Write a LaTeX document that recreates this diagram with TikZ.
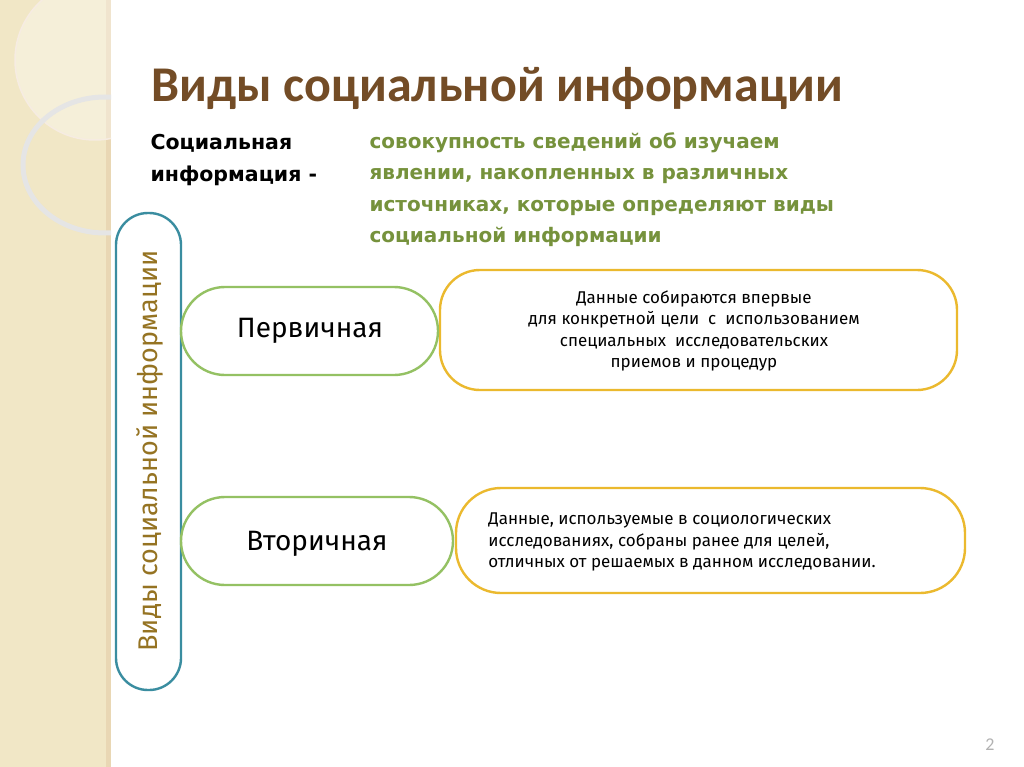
\documentclass[tikz,border=0pt]{standalone}
\usepackage{fontspec}
\setmainfont{Carlito}
\newfontfamily\hand{Fira Sans}
\newfontfamily\wide{DejaVu Sans}
\definecolor{beige}{HTML}{F1E7C6}
\definecolor{gborder}{HTML}{94C163}
\definecolor{yborder}{HTML}{EBB92E}
\definecolor{tborder}{HTML}{3A8DA0}
\definecolor{defc}{HTML}{76923C}
\begin{document}
\begin{tikzpicture}[x=1pt,y=-1pt,
  pill/.style={draw,rounded corners=40pt,line width=2.4pt,fill=white},
  grn/.style={pill,draw=gborder},
  yel/.style={pill,draw=yborder}]
\useasboundingbox (0,0) rectangle (1024,767);
\fill[white] (0,0) rectangle (1024,767);
\fill[beige] (0,0) rectangle (110,767);
\fill[beige!80!brown!90] (106,0) rectangle (111,767);
\begin{scope}
\clip (0,0) rectangle (111,767);
\fill[white,opacity=0.35] (95,60) circle (80);
\draw[white!85!brown,line width=1.5pt] (95,60) circle (80);
\draw[white!80!gray,line width=5pt] (105,165) ellipse (82 and 68);
\end{scope}
\node[anchor=west,text=brown!60!black,font=\bfseries\fontsize{50}{54}\selectfont] (title) at (148,88) {Виды социальной информации};
\node[anchor=north west,align=left,font=\wide\bfseries\fontsize{20.5}{32}\selectfont] (term) at (147,131) {Социальная\\информация -};
\node[anchor=north west,align=left,text=defc,font=\wide\bfseries\fontsize{20}{31.5}\selectfont] (def) at (366,129) {совокупность сведений об изучаем\\явлении, накопленных в различных\\источниках, которые определяют виды\\социальной информации};
\draw[pill,draw=tborder,rounded corners=32pt] (116,213) rectangle (181,690);
\node[rotate=90,text=brown!60!olive!90!black,font=\fontsize{27}{30}\selectfont\hand] (side) at (150,451) {Виды социальной информации};
\draw[yel] (440,270) rectangle (957,390);
\draw[grn,rounded corners=44pt] (181,287) rectangle (438,375);
\draw[yel,rounded corners=45pt] (456,488) rectangle (965,593);
\draw[grn,rounded corners=44pt] (181,497) rectangle (453,585);
\node[font=\fontsize{28}{32}\selectfont\hand] (p1) at (310,331) {Первичная};
\node[font=\fontsize{28}{32}\selectfont\hand] (p2) at (317,544) {Вторичная};
\node[align=center,font=\fontsize{17}{21.5}\selectfont\hand] (d1) at (694,331) {Данные собираются впервые\\для конкретной цели \ с \ использованием\\специальных \ исследовательских\\приемов и процедур};
\node[align=left,font=\fontsize{17}{21.5}\selectfont\hand] (d2) at (682,542) {Данные, используемые в социологических\\исследованиях, собраны ранее для целей,\\отличных от решаемых в данном исследовании.};
\node[text=gray!60,font=\fontsize{18}{20}\selectfont] (num) at (990,745) {2};
\end{tikzpicture}
\end{document}
